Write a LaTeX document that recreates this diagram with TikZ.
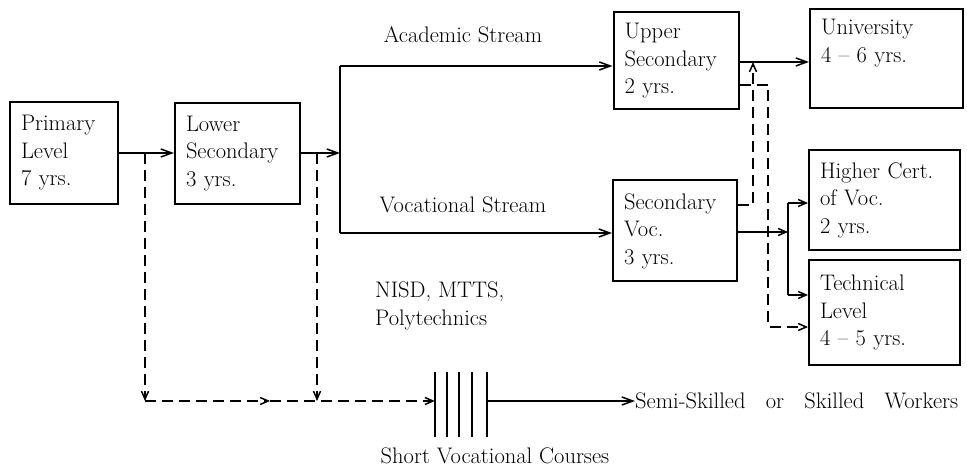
\documentclass[tikz,border=0pt]{standalone}
\usetikzlibrary{arrows.meta}
\begin{document}
\begin{tikzpicture}[x=1pt,y=-1pt,
  txt/.style={font=\fontsize{22.5}{27.5}\selectfont, inner sep=0pt},
  box/.style={txt, draw, line width=2pt, align=left, inner xsep=11pt, inner ysep=0pt},
  link/.style={line width=1.5pt},
  dashlink/.style={line width=1.5pt, dash pattern=on 11pt off 6pt},
  tipbig/.style={-{Straight Barb[length=11pt,width=8pt,line width=1.5pt]}},
  tipsmall/.style={-{Straight Barb[length=8pt,width=7pt,line width=1.5pt]}}
]
\useasboundingbox (0,0) rectangle (967,470);

% ---- boxes ----
\node[box, text width=86pt,  minimum height=102pt] (prim)   at (64,153)    {Primary\\Level\\7 yrs.};
\node[box, text width=103pt, minimum height=101pt] (lower)  at (237.5,153.5) {Lower\\Secondary\\3 yrs.};
\node[box, text width=103pt, minimum height=97pt]  (upper)  at (676,61)    {Upper\\Secondary\\2 yrs.};
\node[box, text width=131pt, minimum height=99pt]  (univ)   at (886.5,58.5) {University\\4 -- 6 yrs.\\\strut};
\node[box, text width=102pt, minimum height=101pt] (secvoc) at (675,231)   {Secondary\\Voc.\\3 yrs.};
\node[box, text width=129pt, minimum height=100pt] (higher) at (884.5,200) {Higher Cert.\\of Voc.\\2 yrs.};
\node[box, text width=129pt, minimum height=105pt] (tech)   at (884.5,312.5) {Technical\\Level\\4 -- 5 yrs.};

% ---- free labels ----
\node[txt] (acad) at (463,35) {Academic Stream};
\node[txt] (vocs) at (463,205) {Vocational Stream};
\node[txt, align=left, anchor=west] (nisd) at (375,306) {NISD, MTTS,\\Polytechnics};

% ---- short vocational courses (bars) ----
\node[minimum width=52pt, minimum height=65pt, inner sep=0pt] (svc) at (461,404.5) {};
\foreach \bx in {0,12,24,37,52}
  \draw[line width=2.2pt] ([xshift=\bx pt]svc.north west) -- ([xshift=\bx pt]svc.south west);
\node[txt] (svclabel) at (495,456) {Short Vocational Courses};
\node[txt, anchor=west] (workers) at (635,401)
  {Semi-Skilled\hspace{0.6em} or\hspace{0.6em} Skilled\hspace{0.6em} Workers};

% ---- junction points ----
\coordinate (j1) at (145,153);
\coordinate (j2) at (317,153);
\coordinate (split) at (340,153);
\coordinate (splittop) at (340,66);
\coordinate (splitbot) at (340,233);
\coordinate (base1) at (145,401);
\coordinate (base2) at (317,401);
\coordinate (mid) at (270,401);
\coordinate (upj) at (753,62);
\coordinate (upcorner) at (753,205);
\coordinate (dncorner1) at (768,85);
\coordinate (dncorner2) at (768,327);
\coordinate (fork) at (788,232);
\coordinate (forktop) at (788,203);
\coordinate (forkbot) at (788,295);

% ---- solid connectors ----
\draw[link, tipbig] (prim.east |- j1) -- (lower.west |- j1);
\draw[link, tipbig] (lower.east |- split) -- (split);
\draw[link] (splittop) -- (splitbot);
\draw[link, tipbig] (splittop) -- (upper.west |- splittop);
\draw[link, tipbig] (splitbot) -- (secvoc.west |- splitbot);
\draw[link, tipbig] (upper.east |- upj) -- (univ.west |- upj);
\draw[link, tipsmall] (secvoc.east |- fork) -- (fork);
\draw[link] (forktop) -- (forkbot);
\draw[link, tipsmall] (forktop) -- (higher.west |- forktop);
\draw[link, tipsmall] (forkbot) -- (tech.west |- forkbot);
\draw[link, tipbig] (svc.east |- base1) -- (workers.west);

% ---- dashed connectors ----
\draw[dashlink, tipsmall] (j1) -- (base1);
\draw[dashlink, tipsmall] (j2) -- (base2);
\draw[dashlink, tipsmall] (base1) -- (mid);
\draw[dashlink, tipsmall] (mid) -- (svc.west |- base1);
\draw[dashlink, tipsmall] (secvoc.east |- upcorner) -- (upcorner) -- (upj);
\draw[dashlink, tipsmall] (upper.east |- dncorner1) -- (dncorner1) -- (dncorner2) -- (tech.west |- dncorner2);
\end{tikzpicture}
\end{document}
